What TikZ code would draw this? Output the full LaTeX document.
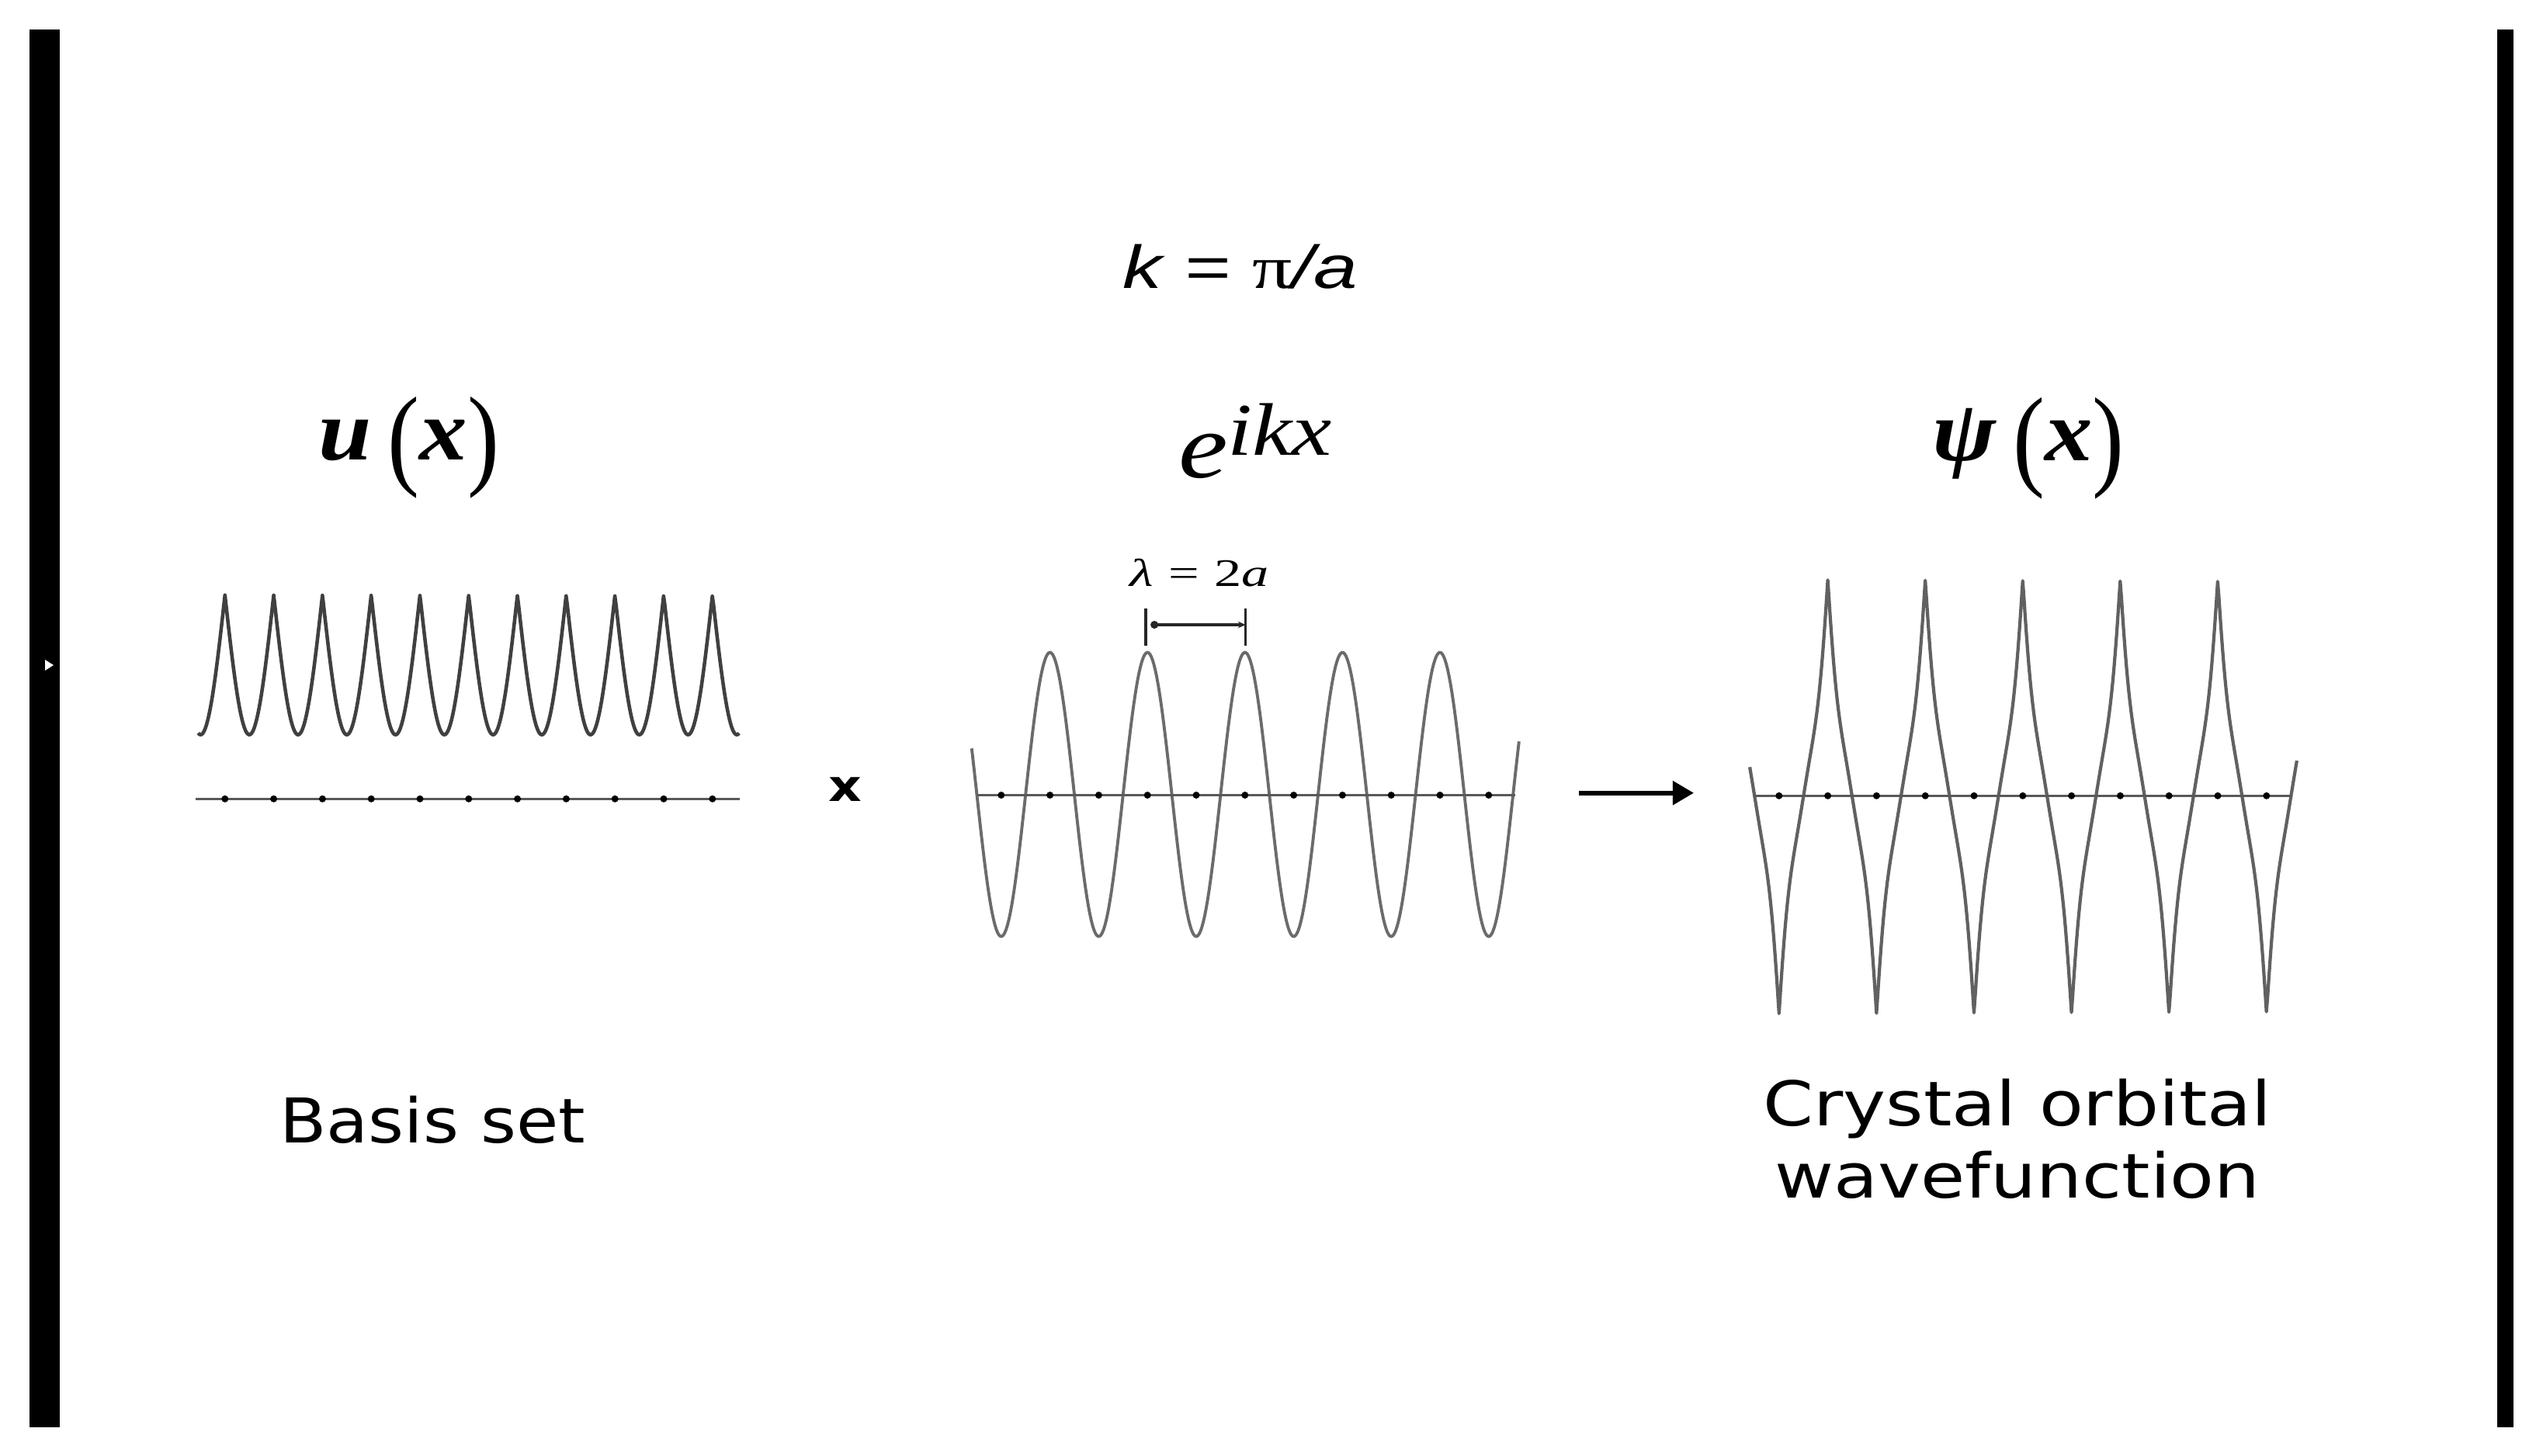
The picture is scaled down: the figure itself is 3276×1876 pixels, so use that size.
\documentclass[tikz,border=0pt]{standalone}
\usepackage{fontspec}
\usetikzlibrary{arrows.meta,calc}
\newfontfamily\labelsans{DejaVu Sans}
\newfontfamily\formsans{Liberation Sans}
\newfontfamily\formserif{Liberation Serif}
\begin{document}
\begin{tikzpicture}[x=0.01cm,y=-0.01cm,
  lbl/.style={inner sep=0pt, outer sep=0pt, anchor=base},
  framebar/.style={fill=black},
  axisline/.style={draw=black!65, line width=0.7pt},
  atom/.style={fill=black},
  ucurve/.style={draw=black!75, line width=1.3pt, line join=round},
  ecurve/.style={draw=black!58, line width=1.1pt},
  pcurve/.style={draw=black!62, line width=1.2pt, line join=round},
  dimline/.style={draw=black!85, line width=1.0pt},
  bigarrow/.style={draw=black, line width=1.7pt, -{Triangle[length=7.7pt,width=8.5pt]}},
  caption/.style={lbl, font=\labelsans\fontsize{22.6}{26.5}\selectfont},
]
\useasboundingbox (0,0) rectangle (3276,1876);
\fill[white] (0,0) rectangle (3276,1876);

% frame bars
\fill[framebar] (37.6,37.6) rectangle (77.3,1838.6);
\fill[framebar] (3217,37.6) rectangle (3238,1838.6);
\fill[white] (58,850) -- (69,857) -- (58,864) -- cycle;

% top formula
\node[lbl, xscale=1.3] (kval) at (1598,372)
  {\formsans\fontsize{22.2}{24}\selectfont\itshape k = {\formserif\upshape π}/a};

% function labels
\node[lbl, xscale=1.1] (ulab) at (527,592)
  {\formserif\fontsize{31.8}{34}\selectfont\textbf{\textit{u}}\,\raisebox{-0.17em}{\scalebox{1}[1.29]{(}}\textbf{\textit{x}}\raisebox{-0.17em}{\scalebox{1}[1.29]{)}}};
\node[lbl, xscale=1.2] (elab) at (1617,615)
  {\formserif\fontsize{34}{36}\selectfont\itshape e\raisebox{8pt}{\fontsize{27.3}{30}\selectfont ikx}};
\node[lbl, xscale=1.1] (plab) at (2613,593)
  {\formserif\fontsize{31.8}{34}\selectfont\textbf{\textit{ψ}}\,\raisebox{-0.17em}{\scalebox{1}[1.29]{(}}\textbf{\textit{x}}\raisebox{-0.17em}{\scalebox{1}[1.29]{)}}};

% basis set u(x)
\draw[ucurve] plot[domain=-0.55:10.55, samples=445]
  ({289.8+62.8*\x}, {766.7+180*abs(sin(180*\x))});
\coordinate (uaxL) at (251.5,1029.3);
\coordinate (uaxR) at (953.2,1029.3);
\draw[axisline] (uaxL) -- (uaxR);
\foreach \k in {0,...,10} \fill[atom] ({289.8+62.8*\k},1029.3) circle[radius=4.5];

% times sign
\node[inner sep=0pt, xscale=1.18] (times) at (1089,1017.5)
  {\labelsans\bfseries\fontsize{16}{18}\selectfont x};

% e^{ikx}
\draw[ecurve] plot[domain=-0.605:10.624, samples=400]
  ({1289.8+62.8*\x}, {1023.6+183*cos(180*\x)});
\coordinate (eaxL) at (1259,1024.5);
\coordinate (eaxR) at (1952.2,1024.5);
\draw[axisline] (eaxL) -- (eaxR);
\foreach \k in {0,...,10} \fill[atom] ({1289.8+62.8*\k},1024.5) circle[radius=4.5];

% wavelength marker
\node[lbl, xscale=1.4] (lamlab) at (1545,755)
  {\formserif\fontsize{14.3}{16}\selectfont\textit{λ}\;=\;2\textit{a}};
\coordinate (lamL) at (1476.2,805);
\coordinate (lamR) at (1604.7,805);
\draw[dimline] ($(lamL)+(0,-21.5)$) -- ($(lamL)+(0,26.7)$);
\draw[dimline] ($(lamR)+(0,-21.5)$) -- ($(lamR)+(0,26.7)$);
\draw[dimline, {Circle[length=2.8pt]}-{Stealth[length=2.8pt,width=2.4pt]}] ($(lamL)+(6,0)$) -- (lamR);

% arrow
\coordinate (arrS) at (2034,1021.7);
\coordinate (arrE) at (2182,1021.7);
\draw[bigarrow] (arrS) -- (arrE);

% psi(x)
\draw[pcurve] plot[domain=-1.6:9.625, samples=450]
  ({2354.6+62.8*\x}, {1026.5-279.6*cos(180*\x)*(0.44+0.56*(1-abs(sin(180*\x)))^2)});
\coordinate (paxL) at (2260,1025.3);
\coordinate (paxR) at (2952.2,1025.3);
\draw[axisline] (paxL) -- (paxR);
\foreach \k in {0,...,10} \fill[atom] ({2291.8+62.8*\k},1025.3) circle[radius=4.5];

% captions
\node[caption, xscale=1.11] (basis) at (557,1472) {Basis set};
\node[caption, xscale=1.17] (crystal) at (2599,1450) {Crystal orbital};
\node[caption, xscale=1.17] (wavefn) at (2599,1543) {wavefunction};
\end{tikzpicture}
\end{document}
